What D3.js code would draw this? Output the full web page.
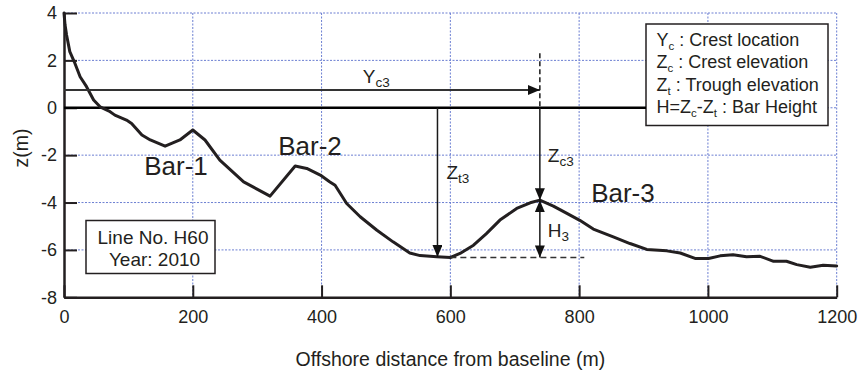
<!DOCTYPE html>
<html>
<head>
<meta charset="utf-8">
<script src="https://cdn.jsdelivr.net/npm/d3@7"></script>
<style>
  html, body { margin: 0; padding: 0; background: #fff; }
  svg { display: block; font-family: "Liberation Sans", Arial, sans-serif; }
</style>
</head>
<body>
<svg id="chart" width="860" height="374"></svg>
<script>
// Cross-shore beach profile, line H60 (2010)
const distance = [0, 1.6, 4, 9, 16, 25, 35, 46, 56, 70, 79, 97, 105, 121, 134, 157, 180, 200, 219, 242, 279, 320,
  359, 377, 398, 413, 421, 439, 460, 486, 511, 537, 553, 579, 600, 615, 636, 656, 677, 703, 724, 739, 760, 781,
  801, 822, 853, 879, 905, 936, 957, 980, 1001, 1019, 1039, 1060, 1081, 1102, 1122, 1138, 1159, 1179, 1200];
const elevation = [4.0, 3.5, 3.07, 2.37, 1.94, 1.31, 0.89, 0.33, 0.04, -0.14, -0.31, -0.52, -0.66, -1.15, -1.36, -1.62, -1.36, -0.94, -1.36, -2.21, -3.13, -3.73,
  -2.46, -2.56, -2.84, -3.13, -3.27, -4.04, -4.6, -5.17, -5.66, -6.13, -6.24, -6.29, -6.32, -6.15, -5.8, -5.31, -4.74, -4.25, -4.01, -3.9, -4.15, -4.46,
  -4.75, -5.12, -5.45, -5.73, -5.98, -6.04, -6.13, -6.36, -6.36, -6.25, -6.2, -6.29, -6.27, -6.48, -6.48, -6.62, -6.73, -6.65, -6.68];

const xTicks = [0, 200, 400, 600, 800, 1000, 1200];
const yTicks = [-8, -6, -4, -2, 0, 2, 4];

// Bar-3 geometry
const crestX = 739, crestZ = -3.9;
const troughX = 580, troughZ = -6.3;
const troughEndX = 808;
const arrowZ = 0.75;       // level of the Yc3 arrow
const dashTopZ = 2.3;      // top of the dashed crest marker

const barLabels = [
  { text: "Bar-1", x: 174, z: -2.85 },
  { text: "Bar-2", x: 382, z: -2.0 },
  { text: "Bar-3", x: 868, z: -3.98 }
];

const legendLines = [
  [["Y", ""], ["c", "sub"], [" : Crest location", ""]],
  [["Z", ""], ["c", "sub"], [" : Crest elevation", ""]],
  [["Z", ""], ["t", "sub"], [" :  Trough elevation", ""]],
  [["H=Z", ""], ["c", "sub"], ["-Z", ""], ["t", "sub"], [" : Bar Height", ""]]
];

const ink = "#231f20";
const gridColor = "#6c7fd2";

const svg = d3.select("#chart");
const x = d3.scaleLinear().domain([0, 1200]).range([64, 836.7]);
const y = d3.scaleLinear().domain([-8, 4]).range([297.3, 13]);

// arrowhead marker
const defs = svg.append("defs");
defs.append("marker")
  .attr("id", "head").attr("viewBox", "0 0 12 10")
  .attr("refX", 12).attr("refY", 5)
  .attr("markerWidth", 12).attr("markerHeight", 10)
  .attr("markerUnits", "userSpaceOnUse")
  .attr("orient", "auto-start-reverse")
  .append("path").attr("d", "M0,0L12,5L0,10Z").attr("fill", "#111");

// dotted grid
const grid = svg.append("g").attr("stroke", gridColor).attr("stroke-width", 1)
  .attr("stroke-dasharray", "2,1.5").attr("fill", "none");
grid.selectAll(".gy").data(yTicks.filter(v => v > -8)).join("line")
  .attr("x1", x(0)).attr("x2", x(1200)).attr("y1", d => y(d)).attr("y2", d => y(d));
grid.selectAll(".gx").data(xTicks.filter(v => v > 0)).join("line")
  .attr("x1", d => x(d)).attr("x2", d => x(d)).attr("y1", y(4)).attr("y2", y(-8));

// axes
const plain = d => String(d);
const yAxis = d3.axisLeft(y).tickValues(yTicks).tickFormat(plain).tickSizeInner(-13).tickSizeOuter(0).tickPadding(7);
const xAxis = d3.axisBottom(x).tickValues(xTicks).tickFormat(plain).tickSizeInner(-12).tickSizeOuter(0).tickPadding(13);
const gy = svg.append("g").attr("transform", `translate(${x(0)},0)`).call(yAxis);
const gx = svg.append("g").attr("transform", `translate(0,${y(-8)})`).call(xAxis);
[gx, gy].forEach(g => {
  g.attr("font-size", 18).attr("font-family", "Liberation Sans, Arial, sans-serif");
  g.select(".domain").attr("stroke", ink).attr("stroke-width", 2.5);
  g.selectAll(".tick line").attr("stroke", ink).attr("stroke-width", 2);
  g.selectAll(".tick text").attr("fill", ink);
});

// axis titles
svg.append("text").attr("x", x(600)).attr("y", 366).attr("text-anchor", "middle")
  .attr("font-size", 19.5).attr("fill", ink).text("Offshore distance from baseline (m)");
svg.append("text").attr("transform", `translate(28,${y(-1.7)}) rotate(-90)`)
  .attr("text-anchor", "middle").attr("font-size", 19.5).attr("fill", ink).text("z(m)");

// legend box
const lg = svg.append("g");
lg.append("rect").attr("x", 646).attr("y", 24).attr("width", 182).attr("height", 101.5)
  .attr("fill", "#fff").attr("stroke", ink).attr("stroke-width", 1.5);

// zero line
svg.append("line").attr("x1", x(0)).attr("x2", 646).attr("y1", y(0)).attr("y2", y(0))
  .attr("stroke", "#000").attr("stroke-width", 2.5);

const legendText = lg.append("text").attr("font-size", 18).attr("fill", ink);
legendLines.forEach((parts, i) => {
  const line = legendText.append("tspan").attr("x", 656.5).attr("y", 45.5 + i * 22.6);
  parts.forEach(([t, kind]) => {
    if (kind === "sub") {
      line.append("tspan").attr("font-size", 11.5).attr("dy", 4).text(t);
    } else {
      const s = line.append("tspan").text(t);
      if (line.selectAll("tspan").size() > 1) s.attr("dy", -4);
    }
  });
});

// profile line
svg.append("path")
  .datum(distance.map((d, i) => [d, elevation[i]]))
  .attr("fill", "none").attr("stroke", ink).attr("stroke-width", 3)
  .attr("stroke-linejoin", "round").attr("stroke-linecap", "round")
  .attr("d", d3.line().x(d => x(d[0])).y(d => y(d[1])));

// annotation lines
const ann = svg.append("g").attr("stroke", "#1a1a1a").attr("fill", "none");
// Yc3 arrow
ann.append("line").attr("x1", x(0)).attr("x2", x(crestX)).attr("y1", y(arrowZ)).attr("y2", y(arrowZ))
  .attr("stroke-width", 2).attr("stroke", "#333").attr("marker-end", "url(#head)");
// dashed crest marker above the zero line
ann.append("line").attr("x1", x(crestX)).attr("x2", x(crestX)).attr("y1", y(dashTopZ)).attr("y2", y(0))
  .attr("stroke-width", 1.5).attr("stroke-dasharray", "5,3");
// Zc3 arrow
ann.append("line").attr("x1", x(crestX)).attr("x2", x(crestX)).attr("y1", y(0)).attr("y2", y(crestZ))
  .attr("stroke-width", 1.5).attr("marker-end", "url(#head)");
// Zt3 arrow
ann.append("line").attr("x1", x(troughX)).attr("x2", x(troughX)).attr("y1", y(0)).attr("y2", y(troughZ))
  .attr("stroke-width", 1.5).attr("marker-end", "url(#head)");
// H3 double arrow
ann.append("line").attr("x1", x(crestX)).attr("x2", x(crestX)).attr("y1", y(crestZ)).attr("y2", y(troughZ - 0.02))
  .attr("stroke-width", 1.5).attr("marker-start", "url(#head)").attr("marker-end", "url(#head)");
// trough level
ann.append("line").attr("x1", x(600)).attr("x2", x(troughEndX)).attr("y1", y(troughZ - 0.02)).attr("y2", y(troughZ - 0.02))
  .attr("stroke-width", 1.5).attr("stroke", "#333").attr("stroke-dasharray", "6,4");

// subscripted labels
function subLabel(px, py, main, sub) {
  const t = svg.append("text").attr("x", px).attr("y", py).attr("font-size", 19).attr("fill", ink);
  t.append("tspan").text(main);
  t.append("tspan").attr("font-size", 13.5).attr("dy", 4).text(sub);
}
subLabel(x(crestX) - 177, y(arrowZ) - 7, "Y", "c3");
subLabel(x(troughX) + 9, y(-3.0), "Z", "t3");
subLabel(x(crestX) + 8, y(-2.3), "Z", "c3");
subLabel(x(crestX) + 8, y(-5.45), "H", "3");

// bar labels
svg.selectAll(".bar-label").data(barLabels).join("text")
  .attr("x", d => x(d.x)).attr("y", d => y(d.z)).attr("text-anchor", "middle")
  .attr("font-size", 26).attr("fill", ink).text(d => d.text);

// survey info box
const info = svg.append("g");
info.append("rect").attr("x", 86).attr("y", 220.5).attr("width", 129).attr("height", 53)
  .attr("fill", "#fff").attr("stroke", ink).attr("stroke-width", 1.5);
info.append("text").attr("x", 153).attr("y", 243.5).attr("text-anchor", "middle")
  .attr("font-size", 19).attr("fill", ink).text("Line No. H60");
info.append("text").attr("x", 154.5).attr("y", 265.5).attr("text-anchor", "middle")
  .attr("font-size", 19).attr("fill", ink).text("Year: 2010");
</script>
</body>
</html>
